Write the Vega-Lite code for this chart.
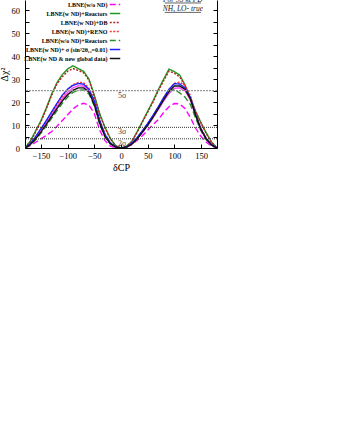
{
  "$schema": "https://vega.github.io/schema/vega-lite/v6.json",
  "width": 192,
  "height": 148,
  "autosize": "none",
  "padding": {"left": 25, "top": 0, "right": 129, "bottom": 300},
  "config": {
    "view": {"stroke": null},
    "font": "Liberation Serif",
    "axis": {"labelFont": "Liberation Serif", "titleFont": "Liberation Serif", "labelColor": "#000", "titleColor": "#000", "domainColor": "#000", "tickColor": "#000", "grid": false, "titleFontWeight": "normal", "labelFontSize": 8.5, "titleFontSize": 10, "labelOverlap": false, "labelBound": false, "labelFlush": false, "tickSize": -4}
  },
  "datasets": {
    "curves": [
      {"delta": -180, "a": 0, "b": 0, "c": 0, "d": 0, "e": 0, "f": 0, "g": 0, "h": 0},
      {"delta": -170, "a": 1.7, "b": 1, "c": 3, "d": 2.8, "e": 1.8, "f": 1.3, "g": 2, "h": 1.5},
      {"delta": -160, "a": 4.4, "b": 2.5, "c": 7.5, "d": 7, "e": 4.6, "f": 3.6, "g": 5, "h": 4},
      {"delta": -150, "a": 7.6, "b": 4, "c": 12, "d": 11.5, "e": 8, "f": 6.5, "g": 8.5, "h": 7},
      {"delta": -140, "a": 11, "b": 5.5, "c": 17.5, "d": 17, "e": 11.5, "f": 9.6, "g": 12, "h": 10.3},
      {"delta": -130, "a": 14.5, "b": 7.2, "c": 23.5, "d": 23, "e": 15.2, "f": 13, "g": 15.8, "h": 13.8},
      {"delta": -120, "a": 18, "b": 9.5, "c": 28.5, "d": 28, "e": 19, "f": 16.3, "g": 19.5, "h": 17.2},
      {"delta": -110, "a": 21.5, "b": 12, "c": 32, "d": 31, "e": 22.5, "f": 19.5, "g": 23, "h": 20.5},
      {"delta": -100, "a": 24.3, "b": 14.5, "c": 34.5, "d": 33.5, "e": 25.5, "f": 22.2, "g": 25.7, "h": 23.2},
      {"delta": -90, "a": 26.2, "b": 17, "c": 35.8, "d": 34.6, "e": 27.6, "f": 24.2, "g": 27.3, "h": 25.2},
      {"delta": -80, "a": 27.1, "b": 18.8, "c": 34.6, "d": 33.8, "e": 28.6, "f": 25.2, "g": 28.1, "h": 26.2},
      {"delta": -70, "a": 27, "b": 19.5, "c": 33.4, "d": 32.8, "e": 28.5, "f": 25.3, "g": 27.8, "h": 26.2},
      {"delta": -60, "a": 25, "b": 18.7, "c": 30, "d": 29.5, "e": 26, "f": 23.5, "g": 25.5, "h": 24.3},
      {"delta": -50, "a": 19.8, "b": 15, "c": 23, "d": 22.5, "e": 21, "f": 18.2, "g": 20.5, "h": 18.8},
      {"delta": -40, "a": 11.5, "b": 7.8, "c": 15, "d": 14.5, "e": 12.3, "f": 10.5, "g": 12, "h": 10.8},
      {"delta": -30, "a": 5.4, "b": 3.2, "c": 9, "d": 8.7, "e": 6, "f": 4.8, "g": 5.8, "h": 5},
      {"delta": -20, "a": 2, "b": 0.8, "c": 4.2, "d": 4, "e": 2.3, "f": 1.8, "g": 2.2, "h": 1.9},
      {"delta": -10, "a": 0.5, "b": 0.1, "c": 1, "d": 1, "e": 0.6, "f": 0.4, "g": 0.5, "h": 0.4},
      {"delta": 0, "a": 0, "b": 0, "c": 0, "d": 0, "e": 0, "f": 0, "g": 0, "h": 0},
      {"delta": 10, "a": 0.4, "b": 0.3, "c": 0.7, "d": 0.6, "e": 0.4, "f": 0.4, "g": 0.5, "h": 0.4},
      {"delta": 20, "a": 1.7, "b": 1.5, "c": 2.8, "d": 2.6, "e": 1.8, "f": 1.7, "g": 2, "h": 1.6},
      {"delta": 30, "a": 4, "b": 3.3, "c": 7, "d": 6.7, "e": 4.2, "f": 4.1, "g": 4.5, "h": 3.9},
      {"delta": 40, "a": 6.8, "b": 5.3, "c": 11.5, "d": 11.2, "e": 7.2, "f": 7.2, "g": 7.5, "h": 6.8},
      {"delta": 50, "a": 9.8, "b": 7.8, "c": 16, "d": 15.6, "e": 10.4, "f": 10.5, "g": 10.7, "h": 9.9},
      {"delta": 60, "a": 13.2, "b": 10.2, "c": 20.5, "d": 20, "e": 13.9, "f": 14, "g": 14.2, "h": 13.4},
      {"delta": 70, "a": 16.8, "b": 12.4, "c": 25.5, "d": 25, "e": 17.7, "f": 17.8, "g": 18, "h": 17.2},
      {"delta": 80, "a": 20.5, "b": 15.5, "c": 30, "d": 29.3, "e": 21.7, "f": 21.5, "g": 22, "h": 21},
      {"delta": 90, "a": 23.8, "b": 18, "c": 34.4, "d": 33.5, "e": 25.5, "f": 24.8, "g": 25.6, "h": 24.6},
      {"delta": 100, "a": 26, "b": 19.4, "c": 33.3, "d": 32.6, "e": 28.2, "f": 25.5, "g": 28, "h": 27},
      {"delta": 110, "a": 26.2, "b": 19.2, "c": 31.8, "d": 31, "e": 28.7, "f": 24, "g": 27.9, "h": 27},
      {"delta": 120, "a": 25, "b": 17.2, "c": 27.5, "d": 27, "e": 27.3, "f": 22.2, "g": 26.2, "h": 25.6},
      {"delta": 130, "a": 21, "b": 13.3, "c": 21.7, "d": 21.3, "e": 23, "f": 19, "g": 22, "h": 21.5},
      {"delta": 140, "a": 14, "b": 8.6, "c": 16, "d": 15.7, "e": 15.2, "f": 13, "g": 14.5, "h": 14.2},
      {"delta": 150, "a": 7.8, "b": 5, "c": 11, "d": 10.8, "e": 8.6, "f": 7.5, "g": 8.2, "h": 8},
      {"delta": 160, "a": 3.8, "b": 2.5, "c": 6.5, "d": 6.3, "e": 4.2, "f": 3.6, "g": 4, "h": 3.9},
      {"delta": 170, "a": 1.3, "b": 0.8, "c": 2.5, "d": 2.4, "e": 1.5, "f": 1.2, "g": 1.4, "h": 1.3},
      {"delta": 180, "a": 0, "b": 0, "c": 0, "d": 0, "e": 0, "f": 0, "g": 0, "h": 0}
    ],
    "names": [
      {"k": "a", "name": "LBNE(w ND)"},
      {"k": "b", "name": "LBNE(w/o ND)"},
      {"k": "c", "name": "LBNE(w ND)+Reactors"},
      {"k": "d", "name": "LBNE(w ND)+DB"},
      {"k": "e", "name": "LBNE(w ND)+RENO"},
      {"k": "f", "name": "LBNE(w/o ND)+Reactors"},
      {"k": "g", "name": "LBNE(w ND)+ σ (sin²2θ₁₃=0.01)"},
      {"k": "h", "name": "LBNE(w ND & new global data)"}
    ],
    "levels": [
      {"level": 25, "name": "5σ"},
      {"level": 9, "name": "3σ"},
      {"level": 4, "name": "2σ"}
    ]
  },
  "resolve": {"axis": {"y": "independent"}},
  "layer": [
    {
      "data": {"name": "curves"},
      "transform": [
        {"fold": ["a", "b", "c", "d", "e", "f", "g", "h"], "as": ["s", "v"]},
        {"lookup": "s", "from": {"data": {"name": "names"}, "key": "k", "fields": ["name"]}}
      ],
      "mark": {"type": "line", "strokeWidth": 1.4, "clip": true},
      "encoding": {
        "x": {"field": "delta", "type": "quantitative",
          "scale": {"domain": [-180, 180], "nice": false, "zero": false},
          "axis": {"title": "δCP", "values": [-150, -100, -50, 0, 50, 100, 150], "labelOverlap": false, "labelBound": false, "tickSize": -4, "labelPadding": 7, "titlePadding": 3, "labelFlush": false}},
        "y": {"field": "v", "type": "quantitative",
          "scale": {"domain": [0, 64.5], "nice": false, "zero": false},
          "axis": {"title": "Δχ²", "orient": "left", "values": [0, 5, 10, 15, 20, 25, 30, 35, 40, 45, 50, 55, 60],
            "labelExpr": "datum.value % 10 === 0 ? datum.label : ''", "labelOverlap": false, "tickSize": -4, "labelPadding": 9.5, "titlePadding": 2, "labelFlush": false}},
        "color": {"field": "name", "type": "nominal",
          "scale": {"domain": ["LBNE(w ND)", "LBNE(w/o ND)", "LBNE(w ND)+Reactors", "LBNE(w ND)+DB", "LBNE(w ND)+RENO", "LBNE(w/o ND)+Reactors", "LBNE(w ND)+ σ (sin²2θ₁₃=0.01)", "LBNE(w ND & new global data)"],
            "range": ["#ff44ff", "#ff00ff", "#1f9a1f", "#b22222", "#ff3333", "#2a8f2a", "#1f1fff", "#111111"]},
          "legend": {"orient": "none", "legendX": 85, "legendY": -9.5, "title": null, "symbolType": "M-1.4,0H1.4", "symbolSize": 56, "symbolStrokeWidth": 1.6,
            "labelFont": "Liberation Serif", "labelFontSize": 6, "labelFontWeight": "bold", "labelAlign": "right", "labelOffset": -12.6, "rowPadding": 0, "labelLimit": 200}},
        "strokeDash": {"field": "name", "type": "nominal",
          "scale": {"domain": ["LBNE(w ND)", "LBNE(w/o ND)", "LBNE(w ND)+Reactors", "LBNE(w ND)+DB", "LBNE(w ND)+RENO", "LBNE(w/o ND)+Reactors", "LBNE(w ND)+ σ (sin²2θ₁₃=0.01)", "LBNE(w ND & new global data)"],
            "range": [[1, 0], [6, 3], [1, 0], [2, 1.5], [2, 1.5], [6, 3], [1, 0], [1, 0]]},
          "legend": {"orient": "none", "legendX": 85, "legendY": -9.5, "title": null, "symbolType": "M-1.4,0H1.4", "symbolSize": 56, "symbolStrokeWidth": 1.6,
            "labelFont": "Liberation Serif", "labelFontSize": 6, "labelFontWeight": "bold", "labelAlign": "right", "labelOffset": -12.6, "rowPadding": 0, "labelLimit": 200}}
      }
    },
    {
      "data": {"name": "levels"},
      "transform": [{"filter": "datum.level === 25"}],
      "mark": {"type": "rule", "color": "#999999", "strokeWidth": 1.2, "strokeDash": [2, 1]},
      "encoding": {
        "y": {"field": "level", "type": "quantitative",
          "scale": {"domain": [0, 64.5], "nice": false, "zero": false},
          "axis": {"orient": "right", "title": null, "labels": false, "values": [0, 5, 10, 15, 20, 25, 30, 35, 40, 45, 50, 55, 60], "tickSize": -4}}
      }
    },
    {
      "data": {"name": "levels"},
      "transform": [{"filter": "datum.level !== 25"}],
      "mark": {"type": "rule", "color": "#333333", "strokeWidth": 1, "strokeDash": [1, 1]},
      "encoding": {
        "y": {"field": "level", "type": "quantitative", "scale": {"domain": [0, 64.5], "nice": false, "zero": false}, "axis": null}
      }
    },
    {
      "data": {"name": "levels"},
      "mark": {"type": "text", "fontSize": 8, "color": "#444444", "dy": 5, "align": "center", "baseline": "middle"},
      "encoding": {
        "x": {"datum": 2, "type": "quantitative", "scale": {"domain": [-180, 180], "nice": false, "zero": false},
          "axis": {"title": "δCP", "values": [-150, -100, -50, 0, 50, 100, 150], "labelOverlap": false, "labelBound": false, "tickSize": -4, "labelPadding": 7, "titlePadding": 3, "labelFlush": false}},
        "y": {"field": "level", "type": "quantitative", "scale": {"domain": [0, 64.5], "nice": false, "zero": false}, "axis": null},
        "text": {"field": "name"}
      }
    },
    {
      "data": {"values": [{"t": "For 35 kt FD"}]},
      "mark": {"type": "text", "fontSize": 7.5, "fontStyle": "italic", "color": "#222222", "align": "center", "baseline": "alphabetic"},
      "encoding": {
        "x": {"datum": 116, "type": "quantitative", "scale": {"domain": [-180, 180], "nice": false, "zero": false},
          "axis": {"title": "δCP", "values": [-150, -100, -50, 0, 50, 100, 150], "labelOverlap": false, "labelBound": false, "tickSize": -4, "labelPadding": 7, "titlePadding": 3, "labelFlush": false}},
        "y": {"datum": 63.8, "type": "quantitative", "scale": {"domain": [0, 64.5], "nice": false, "zero": false}, "axis": null},
        "text": {"field": "t"}
      }
    },
    {
      "data": {"values": [{"t": "NH, LO- true"}]},
      "mark": {"type": "text", "fontSize": 7.5, "fontStyle": "italic", "color": "#222222", "align": "center", "baseline": "alphabetic"},
      "encoding": {
        "x": {"datum": 116, "type": "quantitative", "scale": {"domain": [-180, 180], "nice": false, "zero": false},
          "axis": {"title": "δCP", "values": [-150, -100, -50, 0, 50, 100, 150], "labelOverlap": false, "labelBound": false, "tickSize": -4, "labelPadding": 7, "titlePadding": 3, "labelFlush": false}},
        "y": {"datum": 59.6, "type": "quantitative", "scale": {"domain": [0, 64.5], "nice": false, "zero": false}, "axis": null},
        "text": {"field": "t"}
      }
    },
    {
      "data": {"values": [{"u": 63.2}, {"u": 59.1}]},
      "mark": {"type": "rule", "color": "#222222", "strokeWidth": 0.7},
      "encoding": {
        "x": {"datum": 82, "type": "quantitative", "scale": {"domain": [-180, 180], "nice": false, "zero": false},
          "axis": {"title": "δCP", "values": [-150, -100, -50, 0, 50, 100, 150], "labelOverlap": false, "labelBound": false, "tickSize": -4, "labelPadding": 7, "titlePadding": 3, "labelFlush": false}},
        "x2": {"datum": 150},
        "y": {"field": "u", "type": "quantitative", "scale": {"domain": [0, 64.5], "nice": false, "zero": false}, "axis": null}
      }
    }
  ]
}
